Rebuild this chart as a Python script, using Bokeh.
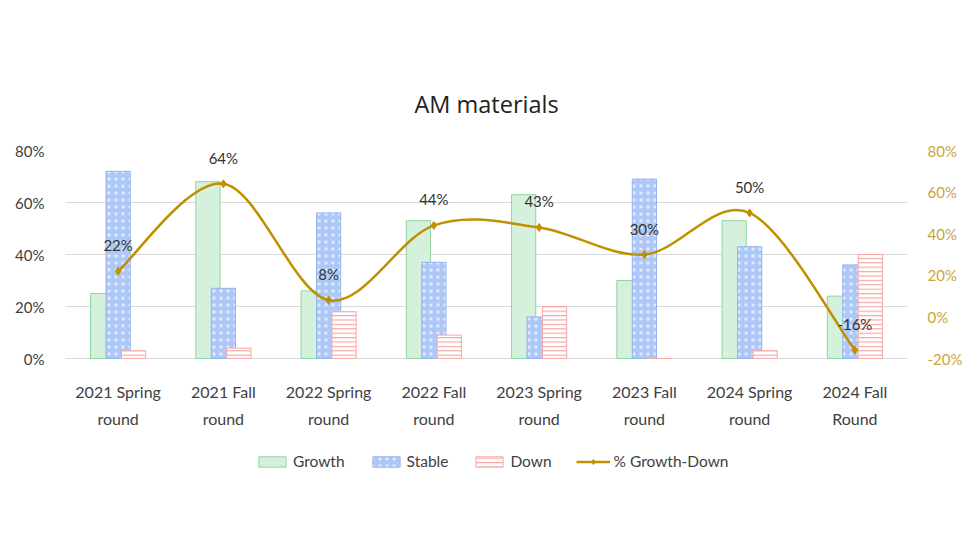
from bokeh.plotting import figure
from bokeh.models import (Range1d, LinearAxis, FixedTicker, Legend, LegendItem,
                          PrintfTickFormatter, ColumnDataSource)
from bokeh.core.properties import value
from bokeh.embed import file_html
from bokeh.resources import INLINE

# ---------------- data ----------------
categories = ["2021 Spring round", "2021 Fall round", "2022 Spring round", "2022 Fall round",
              "2023 Spring round", "2023 Fall round", "2024 Spring round", "2024 Fall Round"]
label_line1 = ["2021 Spring", "2021 Fall", "2022 Spring", "2022 Fall",
               "2023 Spring", "2023 Fall", "2024 Spring", "2024 Fall"]
label_line2 = ["round", "round", "round", "round", "round", "round", "round", "Round"]
growth = [25, 68, 26, 53, 63, 30, 53, 24]
stable = [72, 27, 56, 37, 16, 69, 43, 36]
down = [3, 4, 18, 9, 20, 0, 3, 40]
net = [22, 64, 8, 44, 43, 30, 50, -16]
left_ticks = [0, 20, 40, 60, 80]
right_ticks = [-20, 0, 20, 40, 60, 80]

FONT = "Lato"
TXT = "#404040"
GOLD = "#bf9000"

n = len(categories)
xs = [i + 1 for i in range(n)]
off = 0.147
bw = 0.23

# plot area: value axis occupies the upper 208px of a 340px frame; the lower part
# holds category labels and the legend
FRAME_H = 340
AXIS_H = 208
ext = (FRAME_H - AXIS_H) / AXIS_H
left_lo = 0 - 80 * ext
right_lo = -20 - 100 * ext

p = figure(frame_width=842, frame_height=FRAME_H, output_backend="svg", toolbar_location=None,
           x_range=Range1d(0.5, n + 0.5), y_range=Range1d(left_lo, 80),
           x_axis_location=None,
           min_border_left=65, min_border_right=65, min_border_top=150, min_border_bottom=10)
p.outline_line_color = None
p.background_fill_color = "white"
p.border_fill_color = "white"

p.extra_y_ranges = {"right": Range1d(right_lo, 80)}

# title
p.title.text = "AM materials"
p.title.align = "center"
p.title.text_font = "Open Sans"
p.title.text_font_size = "23.5px"
p.title.text_font_style = "normal"
p.title.text_color = "#222222"
p.title.standoff = 61

p.xgrid.grid_line_color = None
p.ygrid.grid_line_color = "#d9d9d9"
p.ygrid.grid_line_width = 1
p.ygrid.ticker = FixedTicker(ticks=left_ticks)

# bars
src = ColumnDataSource(dict(
    xg=[x - off for x in xs], xs=xs, xd=[x + off for x in xs],
    growth=growth, stable=stable, down=down))

r_g = p.vbar(x="xg", top="growth", bottom=0, width=bw, source=src,
             fill_color="#d5f1dc", line_color="#8fd4a1", line_width=1)
r_s = p.vbar(x="xs", top="stable", bottom=0, width=bw, source=src,
             fill_color="#adc7f7", line_color="#93b3ee", line_width=1,
             hatch_pattern="dot", hatch_color="white", hatch_scale=7, hatch_weight=0.5,
             hatch_alpha=0.6)
r_d = p.vbar(x="xd", top="down", bottom=0, width=bw, source=src,
             fill_color="white", line_color="#f3a8a6", line_width=1,
             hatch_pattern="horizontal_line", hatch_color="#f3a8a6", hatch_scale=4.4, hatch_weight=1.2)

# smoothed line (Catmull-Rom style bezier through the data points)
x0, y0, x1, y1, cx0, cy0, cx1, cy1 = [], [], [], [], [], [], [], []
for i in range(n - 1):
    pm = (xs[max(i - 1, 0)], net[max(i - 1, 0)])
    pa = (xs[i], net[i])
    pb = (xs[i + 1], net[i + 1])
    pn = (xs[min(i + 2, n - 1)], net[min(i + 2, n - 1)])
    x0.append(pa[0]); y0.append(pa[1]); x1.append(pb[0]); y1.append(pb[1])
    cx0.append(pa[0] + (pb[0] - pm[0]) / 6.0); cy0.append(pa[1] + (pb[1] - pm[1]) / 6.0)
    cx1.append(pb[0] - (pn[0] - pa[0]) / 6.0); cy1.append(pb[1] - (pn[1] - pa[1]) / 6.0)
r_line = p.bezier(x0=x0, y0=y0, x1=x1, y1=y1, cx0=cx0, cy0=cy0, cx1=cx1, cy1=cy1,
                  line_color=GOLD, line_width=2.5, y_range_name="right")
r_pts = p.scatter(xs, net, marker="diamond", size=8, color=GOLD, y_range_name="right")

p.text(xs, net, text=[f"{v}%" for v in net], y_offset=-26, text_align="center",
       text_baseline="middle", text_font=value(FONT), text_font_size="15px",
       text_color="#333333", y_range_name="right")

# category labels (two lines) under the baseline
p.text(xs, [0] * n, text=label_line1, y_offset=33, text_align="center",
       text_baseline="middle", text_font=value(FONT), text_font_size="16px",
       text_color=TXT)
p.text(xs, [0] * n, text=label_line2, y_offset=60, text_align="center",
       text_baseline="middle", text_font=value(FONT), text_font_size="16px",
       text_color=TXT)

# axes
yl = p.yaxis[0]
yl.ticker = FixedTicker(ticks=left_ticks)
yl.formatter = PrintfTickFormatter(format="%d%%")
yl.axis_line_color = None
yl.major_tick_line_color = None
yl.minor_tick_line_color = None
yl.major_tick_out = 0
yl.major_label_standoff = 21
yl.major_label_text_font = FONT
yl.major_label_text_font_size = "15px"
yl.major_label_text_color = TXT

yr = LinearAxis(y_range_name="right", ticker=FixedTicker(ticks=right_ticks),
                formatter=PrintfTickFormatter(format="%d%%"))
yr.axis_line_color = None
yr.major_tick_line_color = None
yr.minor_tick_line_color = None
yr.major_tick_out = 0
yr.major_label_standoff = 20
yr.major_label_text_font = FONT
yr.major_label_text_font_size = "15px"
yr.major_label_text_color = "#c9a53c"
p.add_layout(yr, "right")

legend = Legend(items=[
    LegendItem(label="Growth", renderers=[r_g]),
    LegendItem(label="Stable", renderers=[r_s]),
    LegendItem(label="Down", renderers=[r_d]),
    LegendItem(label="% Growth-Down", renderers=[r_line, r_pts]),
], orientation="horizontal", location=(190, 20))
legend.border_line_color = None
legend.background_fill_alpha = 0
legend.label_text_font = FONT
legend.label_text_font_size = "15.5px"
legend.label_text_color = TXT
legend.glyph_width = 34
legend.glyph_height = 13
legend.label_standoff = 4
legend.spacing = 24
legend.margin = 0
legend.padding = 6
p.add_layout(legend, "center")

open("out.html", "w").write(file_html(p, INLINE))
